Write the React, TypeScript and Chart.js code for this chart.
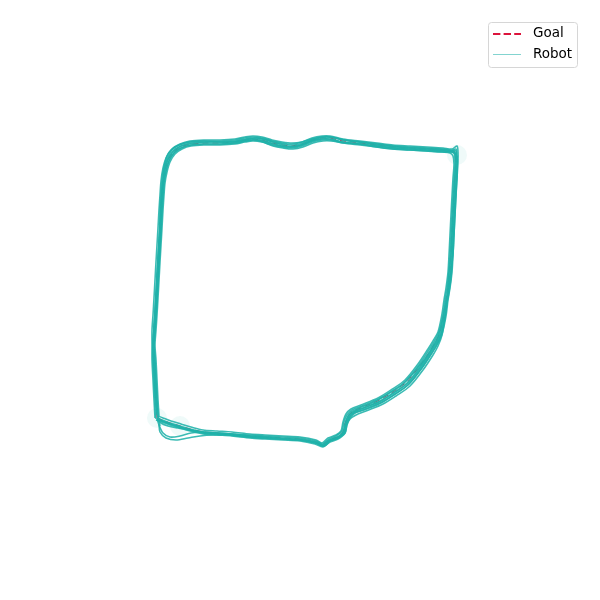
import React, { useEffect, useRef } from "react";
import { Chart, registerables } from "chart.js";

Chart.register(...registerables);

// Map coordinates (cm, image-style: y grows downward)
const goalPath: [number, number][] = [
  [157,418],[156,400],[155,380],[154,360],[153,345],[154,330],[155,315],[156,298],[157,280],[158,262],[159,245],[160,228],[161,210],[162,195],[163,182],[165,170],[168,160],[173,152],[180,147],[190,144],[205,143],[220,143],[235,142],[245,140],[253,139],[262,140],[272,143],[282,145],[292,146],[302,144],[312,140],[322,138],[330,138],[343,141],[360,143],[377,145],[393,147],[410,148],[427,149],[443,150],[450,151],[455,152],
  [456,162],[455,178],[454,196],[453,215],[452,235],[451,255],[450,272],[448,288],[446,300],[444,315],[440,333],[435,343],[430,351],[420,366],[407,382],[393,392],[380,400],[363,407],[353,411],[348,416],[345,423],[343,432],[337,437],[329,440],[323,445],[316,442],[300,439],[283,438],[265,437],[250,436],[232,434],[217,433],[203,432],[190,429],[180,426],[170,423],[162,420],[157,418]
];

const robotRun1: [number, number][] = [
  [155,418],[154,400],[153,380],[152,360],[152,345],[152,330],[153,315],[154,298],[155,280],[156,262],[157,245],[158,228],[159,210],[160,195],[161,181],[163,168],[166,158],[171,150],[179,145],[190,142],[205,141],[220,141],[235,140],[245,138],[253,137],[262,138],[272,141],[282,143],[292,144],[302,142],[312,138],[322,136],[330,136],[343,139],[360,141],[377,143],[393,145],[410,146],[427,147],[443,148],[452,149],[457,146],[458,152],[458,162],[457,178],[456,196],[455,215],[454,235],[453,255],[452,272],[450,288],[448,300],[446,316],[442,334],[437,345],[432,353],[422,368],[409,384],[395,394],[382,402],[365,409],[355,413],[350,418],[347,424],[345,433],[338,439],[330,442],[323,447],[315,444],[300,441],[283,440],[265,439],[250,438],[232,436],[217,435],[203,434],[190,431],[180,428],[170,425],[162,422],[156,420]
];
const robotRun2: [number, number][] = [
  [159,416],[158,400],[157,380],[156,360],[155,345],[156,330],[157,315],[158,298],[159,280],[160,262],[161,245],[162,228],[163,210],[164,195],[165,183],[167,172],[170,162],[175,154],[182,149],[191,146],[205,145],[220,145],[235,144],[245,142],[253,141],[262,142],[272,145],[282,147],[292,148],[302,146],[312,142],[322,140],[330,140],[343,143],[360,145],[377,147],[393,149],[410,150],[427,151],[443,152],[450,153],[453,156],[454,164],[453,178],[452,196],[451,215],[450,235],[449,255],[448,272],[446,288],[444,300],[442,314],[438,332],[433,341],[428,349],[418,364],[405,380],[391,390],[378,398],[361,405],[351,409],[346,414],[343,422],[341,431],[336,435],[328,438],[322,443],[316,440],[300,437],[283,436],[265,435],[250,434],[232,432],[217,431],[203,430],[191,427],[181,424],[171,421],[163,418],[158,416]
];
const robotRun3: [number, number][] = [
  [157,412],[156,396],[155,378],[154,358],[153,344],[154,329],[155,314],[156,297],[157,279],[158,261],[159,244],[160,227],[160,209],[161,194],[162,180],[164,167],[167,156],[172,149],[180,144],[190,141],[205,140],[220,140],[235,139],[245,137],[253,136],[262,137],[272,140],[282,142],[292,143],[302,142],[312,139],[322,137],[330,137],[343,140],[360,142],[377,145],[393,147],[410,148],[427,149],[443,150],[451,151],[455,154],[456,162],[455,178],[454,196],[453,215],[452,235],[451,255],[449,272],[447,288],[445,300],[443,315],[439,332],[434,342],[429,350],[419,365],[406,381],[392,391],[379,399],[362,406],[352,410],[347,415],[344,422],[342,431],[336,436],[329,439],[323,444],[316,441],[300,438],[283,437],[265,436],[250,435],[232,434],[217,433],[203,432],[191,433],[180,436],[170,437],[163,433],[159,425],[157,418]
];
const robotRun4: [number, number][] = [
  [158,421],[157,402],[156,382],[155,362],[154,346],[155,331],[156,316],[157,299],[158,281],[159,263],[160,246],[161,229],[162,211],[163,196],[164,183],[166,171],[169,161],[174,153],[181,148],[191,145],[206,144],[221,144],[236,143],[246,141],[254,140],[263,142],[273,146],[283,148],[293,149],[303,147],[313,143],[323,141],[331,141],[344,143],[361,144],[378,146],[394,148],[411,149],[428,150],[444,151],[451,151],[456,149],[457,158],[457,170],[456,186],[455,204],[454,222],[453,242],[452,262],[451,278],[449,292],[447,303],[445,317],[441,335],[436,346],[431,354],[421,369],[408,385],[394,395],[381,403],[364,410],[354,413],[349,418],[346,425],[344,433],[338,438],[330,441],[324,446],[316,443],[300,440],[283,439],[265,438],[250,437],[232,435],[217,434],[203,433],[190,430],[180,427],[170,424],[162,421],[158,420]
];
const robotRun5: [number, number][] = [
  [156,419],[155,401],[154,381],[153,361],[153,346],[154,330],[155,314],[156,297],[157,279],[158,261],[159,244],[160,227],[161,209],[162,194],[163,181],[165,169],[168,159],[173,151],[181,146],[191,143],[206,142],[221,142],[236,141],[246,139],[254,138],[263,139],[273,142],[283,144],[293,145],[303,143],[313,139],[323,137],[331,137],[344,140],[361,142],[378,144],[394,146],[411,147],[428,148],[444,149],[451,150],[456,151],[456,163],[455,179],[454,197],[453,216],[452,236],[451,256],[450,273],[448,289],[446,301],[444,316],[440,334],[435,344],[430,352],[420,367],[407,383],[393,393],[380,401],[363,408],[353,412],[348,417],[345,424],[343,433],[337,438],[329,441],[323,446],[316,443],[300,440],[283,439],[265,438],[250,437],[232,435],[217,434],[203,433],[190,430],[180,427],[170,424],[162,421],[157,419]
];
const robotRun6: [number, number][] = [
  [160,426],[157,410],[155,392],[154,372],[153,355],[153,340],[154,324],[155,308],[156,291],[157,273],[158,256],[159,238],[160,220],[161,203],[162,189],[164,176],[166,165],[170,156],[176,149],[184,145],[196,143],[211,142],[226,142],[240,141],[249,139],[257,138],[266,140],[276,143],[286,146],[296,146],[306,143],[316,139],[326,137],[335,138],[350,141],[367,143],[384,145],[400,147],[417,148],[434,149],[446,150],[453,152],[457,157],[457,168],[456,184],[455,202],[454,222],[453,242],[452,262],[450,280],[448,294],[445,307],[442,322],[438,337],[433,346],[427,356],[416,370],[402,385],[388,394],[374,402],[359,408],[351,412],[347,418],[345,426],[342,434],[335,438],[327,441],[322,445],[314,442],[298,440],[280,439],[262,438],[246,437],[228,435],[213,435],[200,436],[188,438],[176,440],[166,438],[160,432],[159,424]
];
const robotRun7: [number, number][] = [
  [158,417],[157,400],[156,380],[155,360],[154,345],[155,330],[156,315],[157,298],[158,280],[159,262],[160,245],[161,228],[162,210],[163,195],[164,182],[166,171],[169,161],[174,153],[181,148],[191,145],[205,144],[220,144],[235,143],[245,141],[253,140],[262,141],[272,144],[282,146],[292,147],[302,145],[312,141],[322,139],[330,139],[343,142],[360,144],[377,146],[393,148],[410,149],[427,150],[443,151],[450,152],[454,153],[455,163],[454,178],[453,196],[452,215],[451,235],[450,255],[449,272],[448,288],[447,301],[445,317],[442,335],[438,346],[433,355],[423,370],[410,386],[396,396],[383,404],[366,411],[356,415],[350,419],[347,425],[345,433],[338,438],[330,441],[324,446],[316,443],[300,440],[283,439],[265,437],[250,436],[232,434],[217,433],[203,432],[190,429],[180,426],[170,423],[162,420],[158,418]
];
const robotRun8: [number, number][] = [
  [157,415],[156,398],[155,378],[154,358],[154,344],[155,329],[156,314],[157,297],[158,279],[159,261],[160,244],[161,227],[161,209],[162,194],[163,182],[164,170],[167,159],[172,150],[179,145],[189,142],[204,141],[219,142],[234,142],[244,140],[252,139],[261,140],[271,143],[281,146],[291,147],[301,145],[311,141],[321,139],[329,139],[342,142],[359,144],[376,147],[392,149],[409,150],[426,151],[442,152],[449,152],[454,151],[457,159],[457,176],[456,194],[455,214],[454,234],[453,254],[451,272],[449,288],[447,301],[445,316],[441,334],[436,344],[431,352],[421,367],[408,383],[394,393],[381,401],[364,408],[354,412],[349,417],[346,424],[344,432],[338,437],[330,440],[324,445],[316,442],[300,439],[283,438],[265,437],[250,436],[232,434],[217,433],[203,432],[190,430],[178,428],[168,426],[161,423],[157,419]
];
const robotRuns = [robotRun1, robotRun2, robotRun3, robotRun4, robotRun5, robotRun6, robotRun7, robotRun8];

// spots where the robot paused (start / turn)
const pausePoints: [number, number][] = [[157,418],[457,155],[180,426]];

const legendLabels = ["Goal", "Robot"];

const GOAL_COLOR = "#DC143C";
const ROBOT_COLOR = "rgba(32,178,170,0.88)";

const toXY = (pts: [number, number][]) => pts.map(([x, y]) => ({ x, y }));

const legendPlugin = {
  id: "mplLegend",
  afterDraw(chart: any) {
    const ctx = chart.ctx as CanvasRenderingContext2D;
    ctx.save();
    const bx = 488.5, by = 22.5, bw = 89, bh = 45, r = 3;
    ctx.beginPath();
    ctx.moveTo(bx + r, by);
    ctx.lineTo(bx + bw - r, by);
    ctx.arcTo(bx + bw, by, bx + bw, by + r, r);
    ctx.lineTo(bx + bw, by + bh - r);
    ctx.arcTo(bx + bw, by + bh, bx + bw - r, by + bh, r);
    ctx.lineTo(bx + r, by + bh);
    ctx.arcTo(bx, by + bh, bx, by + bh - r, r);
    ctx.lineTo(bx, by + r);
    ctx.arcTo(bx, by, bx + r, by, r);
    ctx.closePath();
    ctx.fillStyle = "rgba(255,255,255,0.8)";
    ctx.fill();
    ctx.strokeStyle = "#d6d6d6";
    ctx.lineWidth = 1;
    ctx.stroke();

    ctx.strokeStyle = GOAL_COLOR;
    ctx.lineWidth = 2;
    ctx.setLineDash([7.4, 3.2]);
    ctx.beginPath();
    ctx.moveTo(493, 34);
    ctx.lineTo(521, 34);
    ctx.stroke();
    ctx.setLineDash([]);
    ctx.strokeStyle = "rgba(32,178,170,0.7)";
    ctx.lineWidth = 0.8;
    ctx.beginPath();
    ctx.moveTo(493, 54.5);
    ctx.lineTo(521, 54.5);
    ctx.stroke();

    ctx.fillStyle = "#000";
    ctx.font = "13.5px 'DejaVu Sans'";
    ctx.textBaseline = "middle";
    ctx.fillText(legendLabels[0], 533, 33.5);
    ctx.fillText(legendLabels[1], 533, 54);
    ctx.restore();
  },
};

export default function App() {
  const ref = useRef<HTMLCanvasElement | null>(null);
  useEffect(() => {
    document.body.style.margin = "0";
    if (!ref.current) return;
    const datasets: any[] = [
      {
        label: "Goal",
        data: toXY(goalPath),
        showLine: true,
        borderColor: GOAL_COLOR,
        borderWidth: 1,
        borderDash: [6, 4],
        pointRadius: 0,
        tension: 0,
        order: 10,
      },
      ...robotRuns.map((run, i) => ({
        label: i === 0 ? "Robot" : "Robot " + (i + 1),
        data: toXY(run),
        showLine: true,
        borderColor: ROBOT_COLOR,
        borderWidth: 1.6,
        pointRadius: 0,
        tension: 0.3,
        order: 1,
      })),
      {
        label: "pause",
        data: toXY(pausePoints),
        showLine: false,
        pointRadius: 10,
        pointBackgroundColor: "rgba(32,178,170,0.07)",
        pointBorderWidth: 0,
        order: 20,
      },
    ];
    const chart = new Chart(ref.current, {
      type: "scatter",
      data: { datasets },
      options: {
        animation: false,
        responsive: false,
        devicePixelRatio: 1,
        layout: { padding: 0, autoPadding: false },
        plugins: { legend: { display: false }, tooltip: { enabled: false } },
        scales: {
          x: { type: "linear", min: 0, max: 600, display: false },
          y: { type: "linear", min: 0, max: 600, reverse: true, display: false },
        },
      },
      plugins: [legendPlugin],
    });
    return () => chart.destroy();
  }, []);
  return (
    <div style={{ width: 600, height: 600 }}>
      <canvas ref={ref} width={600} height={600} />
    </div>
  );
}
